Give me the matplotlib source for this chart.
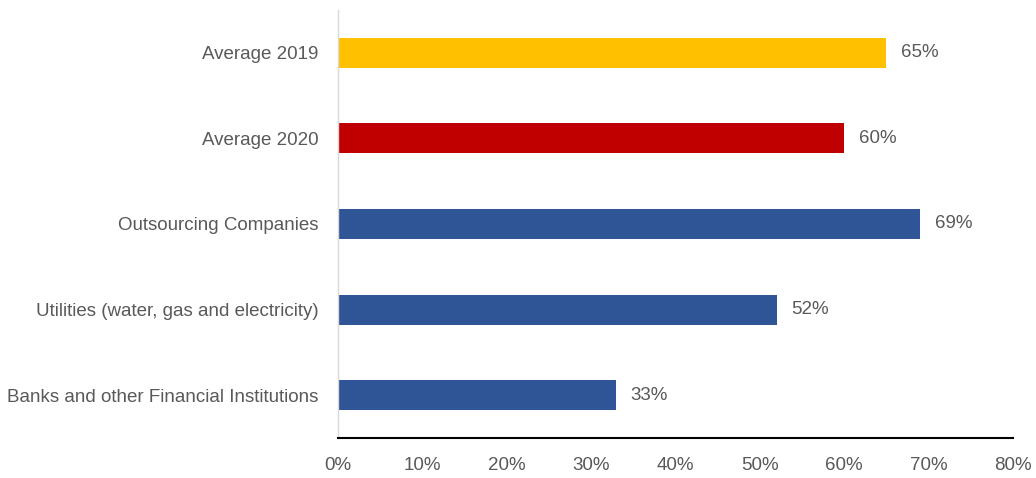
import matplotlib.pyplot as plt
from matplotlib import font_manager

categories = ["Banks and other Financial Institutions",
              "Utilities (water, gas and electricity)",
              "Outsourcing Companies",
              "Average 2020",
              "Average 2019"]
values = [33, 52, 69, 60, 65]
colors = ["#2F5597", "#2F5597", "#2F5597", "#C00000", "#FFC000"]
xticks = [0, 10, 20, 30, 40, 50, 60, 70, 80]

names = {f.name for f in font_manager.fontManager.ttflist}
font = "Liberation Sans Narrow" if "Liberation Sans Narrow" in names else "Liberation Sans"
plt.rcParams['font.family'] = [font, 'DejaVu Sans']
text_color = "#595959"

fig = plt.figure(figsize=(10.36, 4.78), dpi=100)
ax = fig.add_axes([338 / 1036, 1 - 438 / 478, 675 / 1036, 428 / 478])

y = range(len(categories))
ax.barh(y, values, height=0.35, color=colors)
for yi, v in zip(y, values):
    ax.text(v + 1.7, yi, f"{v}%", va='center', ha='left', fontsize=13.5, color=text_color)

ax.set_xlim(0, 80)
ax.set_ylim(-0.5, 4.5)
ax.set_yticks(list(y))
ax.set_yticklabels(categories, fontsize=13.5, color=text_color)
ax.set_xticks(xticks)
ax.set_xticklabels([f"{t}%" for t in xticks], fontsize=13.5, color=text_color)
ax.tick_params(axis='both', length=0)
ax.tick_params(axis='y', pad=14)
ax.tick_params(axis='x', pad=14)

for s in ['top', 'right']:
    ax.spines[s].set_visible(False)
ax.spines['left'].set_color('#D9D9D9')
ax.spines['left'].set_linewidth(1)
ax.spines['bottom'].set_color('black')
ax.spines['bottom'].set_linewidth(1.5)

plt.savefig("out.png", dpi=100)
